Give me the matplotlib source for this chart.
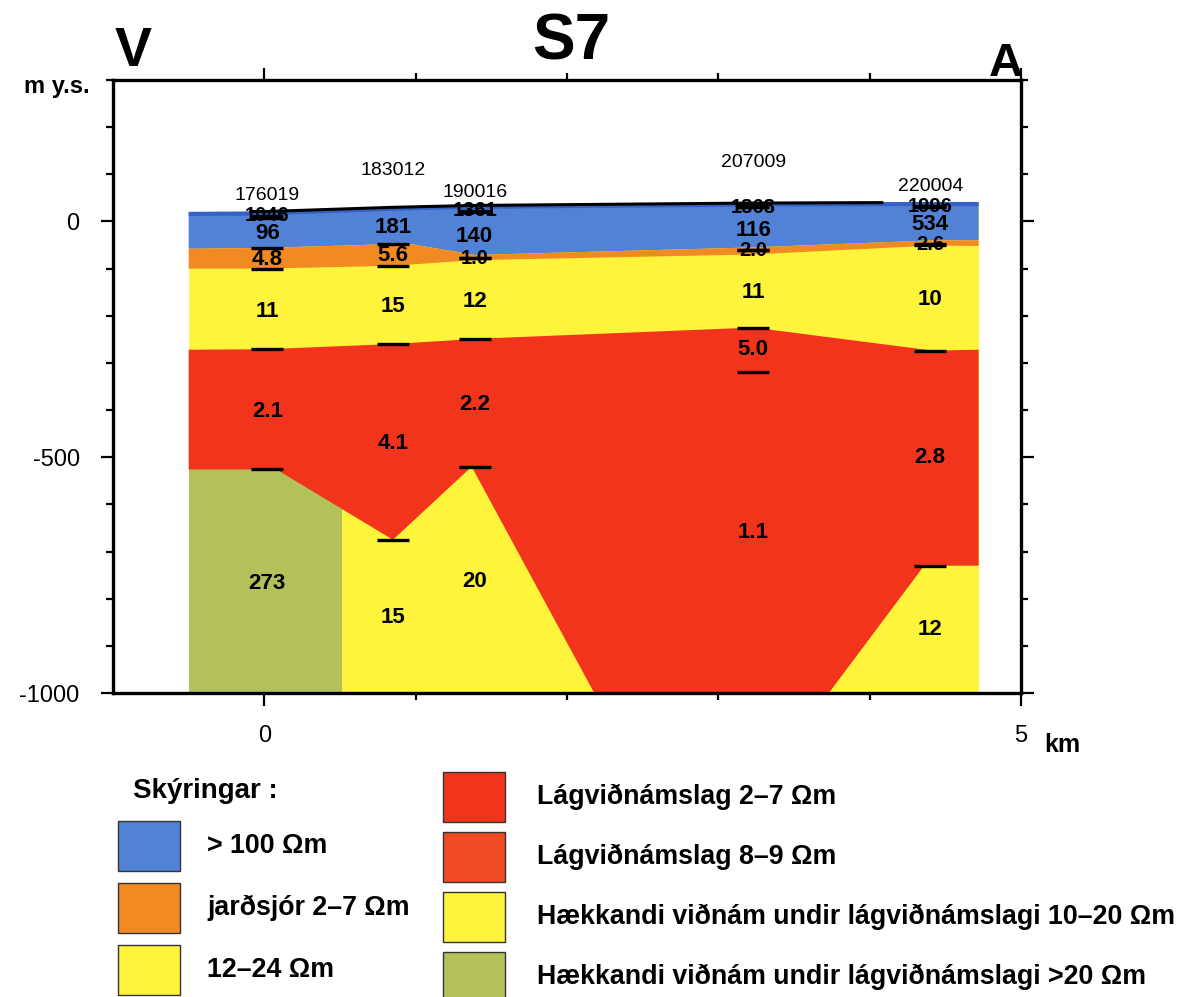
import numpy as np
import matplotlib.pyplot as plt
from matplotlib.patches import Rectangle
from matplotlib.ticker import MultipleLocator, FixedLocator

plt.rcParams['axes.unicode_minus'] = False
plt.rcParams['font.family'] = ['Liberation Sans', 'DejaVu Sans']
NARROW = ['Liberation Sans Narrow', 'Liberation Sans', 'DejaVu Sans']

# -----------------------------
# Layer colours
# -----------------------------
c_blue = '#5282d6'
c_blue_dark = '#3562c4'
c_orange = '#f28a24'
c_yellow = '#fff43c'
c_red = '#f2341c'
c_red2 = '#f04a22'
c_green = '#b4c05a'

# -----------------------------
# Section geometry (km, m y.s.)
# -----------------------------
z_floor = -1000

surface_x = [-0.5, 0.0, 0.85, 1.39, 3.23, 4.42, 4.72]
surface_z = [19, 20, 30, 34, 39, 40, 40]

blue_base_x = [-0.5, 0.0, 0.95, 1.39, 3.23, 4.42, 4.72]
blue_base_z = [-58, -56, -47, -71, -55, -40, -40]

sea_base_x = [-0.5, 0.0, 0.85, 1.39, 3.23, 4.42, 4.72]
sea_base_z = [-100, -100, -94, -82, -70, -51, -52]

red_top_x = [-0.5, 0.0, 0.85, 1.39, 3.23, 4.42, 4.72]
red_top_z = [-272, -271, -260, -249, -225, -274, -272]

red_base_x = [-0.5, 0.08, 0.85, 1.37, 2.18, 3.73, 4.36, 4.72]
red_base_z = [-526, -526, -675, -520, -1000, -1000, -730, -730]

green_x = [-0.5, 0.51]
green_top = -526

surf_line_x = [-0.1, 0.0, 0.85, 1.39, 3.23, 4.09]
surf_line_z = [21, 21, 30, 34, 39, 40]

# -----------------------------
# Soundings
# -----------------------------
st_names = ['176019', '183012', '190016', '207009', '220004']
st_x = [0.02, 0.85, 1.39, 3.23, 4.40]
st_label_z = [56, 108, 61, 124, 74]

# resistivity values: (station index, text, depth, struck through)
res_labels = [
    (0, '1046', 12, True), (0, '96', -26, False), (0, '4.8', -80, False),
    (0, '11', -191, False), (0, '2.1', -402, False), (0, '273', -768, False),
    (1, '181', -13, False), (1, '5.6', -73, False), (1, '15', -180, False),
    (1, '4.1', -471, False), (1, '15', -839, False),
    (2, '1361', 23, True), (2, '140', -31, False), (2, '1.0', -78, True),
    (2, '12', -169, False), (2, '2.2', -388, False), (2, '20', -763, False),
    (3, '1868', 30, True), (3, '116', -19, False), (3, '2.0', -61, True),
    (3, '11', -150, False), (3, '5.0', -272, False), (3, '1.1', -659, False),
    (4, '1996', 32, True), (4, '534', -6, False), (4, '2.6', -49, True),
    (4, '10', -166, False), (4, '2.8', -500, False), (4, '12', -866, False),
]

# layer boundary marks at each sounding
bar_z = [
    [7, -56, -101, -271, -526],
    [-47, -94, -260, -675],
    [20, -78, -249, -521],
    [35, -61, -225, -319],
    [30, -47, -274, -730],
]
bar_half = 0.105

# -----------------------------
# Legend entries
# -----------------------------
legend_left = [(c_blue, '> 100 \u03a9m'), (c_orange, 'jarðsjór 2\u20137 \u03a9m'),
               (c_yellow, '12\u201324 \u03a9m')]
legend_right = [(c_red, 'Lágviðnámslag 2\u20137 \u03a9m'),
                (c_red2, 'Lágviðnámslag 8\u20139 \u03a9m'),
                (c_yellow, 'Hækkandi viðnám undir lágviðnámslagi 10\u201320 \u03a9m'),
                (c_green, 'Hækkandi viðnám undir lágviðnámslagi >20 \u03a9m')]

W, H = 1189, 997
fig = plt.figure(figsize=(W / 100, H / 100), dpi=100)


def fx(px):
    return px / W


def fy(py):
    return 1 - py / H


ax = fig.add_axes([fx(113), fy(693), fx(1021) - fx(113), fy(80) - fy(693)])

# background column is yellow, other layers drawn over it
ax.fill_between(surface_x, surface_z, z_floor, color=c_yellow, lw=0)
ax.add_patch(Rectangle((green_x[0], z_floor), green_x[1] - green_x[0],
                       green_top - z_floor, color=c_green, lw=0))
ax.fill(list(red_top_x) + red_base_x[::-1], list(red_top_z) + red_base_z[::-1],
        color=c_red, lw=0)
ax.fill(list(surface_x) + blue_base_x[::-1], list(surface_z) + blue_base_z[::-1],
        color=c_blue, lw=0)
ax.fill(list(blue_base_x) + sea_base_x[::-1], list(blue_base_z) + sea_base_z[::-1],
        color=c_orange, lw=0)
ax.plot(surface_x, np.array(surface_z) - 3, color=c_blue_dark, lw=3,
        solid_capstyle='butt')
ax.plot(surf_line_x, surf_line_z, color='black', lw=2.2, solid_capstyle='butt')

for name, x, z in zip(st_names, st_x, st_label_z):
    ax.text(x, z, name, ha='center', va='center', fontsize=14)

for i, txt, z, struck in res_labels:
    ax.text(st_x[i], z, txt, ha='center', va='center',
            fontsize=14.5 if struck else 16, fontweight='bold')
    if struck:
        ax.plot([st_x[i] - bar_half, st_x[i] + bar_half], [z, z], color='black',
                lw=2.4, solid_capstyle='butt')

for x, zs in zip(st_x, bar_z):
    for z in zs:
        ax.plot([x - bar_half, x + bar_half], [z, z], color='black', lw=2.4,
                solid_capstyle='butt')

ax.set_xlim(-1, 5)
ax.set_ylim(-1000, 300)
ax.xaxis.set_major_locator(FixedLocator([0, 5]))
ax.xaxis.set_minor_locator(FixedLocator([1, 2, 3, 4]))
ax.yaxis.set_major_locator(FixedLocator([0, -500, -1000]))
ax.yaxis.set_minor_locator(MultipleLocator(100))
ax.set_xticklabels(['0', '5'], fontsize=17)
ax.set_yticklabels(['0', '-500', '-1000'], fontsize=17)
ax.tick_params(which='both', direction='out', top=True, right=True, width=1.6,
               color='black')
ax.tick_params(which='major', length=9, pad=14)
ax.tick_params(which='minor', length=5)
ax.tick_params(axis='y', which='major', pad=15)
for sp in ax.spines.values():
    sp.set_linewidth(2.4)

# headings and axis words
fig.text(fx(571), fy(42), 'S7', ha='center', va='center', fontsize=46,
         fontweight='bold')
fig.text(fx(133), fy(52), 'V', ha='center', va='center', fontsize=40,
         fontweight='bold', family=NARROW)
fig.text(fx(1006), fy(64), 'A', ha='center', va='center', fontsize=34,
         fontweight='bold', family=NARROW)
fig.text(fx(57), fy(87), 'm y.s.', ha='center', va='center', fontsize=17,
         fontweight='bold', family=NARROW)
fig.text(fx(1062), fy(745), 'km', ha='center', va='center', fontsize=18,
         fontweight='bold', family=NARROW)

# legend
fig.text(fx(133), fy(791), 'Skýringar :', ha='left', va='center', fontsize=20,
         fontweight='bold', family=NARROW)
box_w, box_h = 62, 50
for k, (col, txt) in enumerate(legend_left):
    yc = 846 + 62 * k
    fig.patches.append(Rectangle((fx(118), fy(yc + box_h / 2)), fx(box_w),
                                 box_h / H, transform=fig.transFigure,
                                 facecolor=col, edgecolor='#333333', lw=1.0))
    fig.text(fx(207), fy(yc), txt, ha='left', va='center', fontsize=19.3,
             fontweight='bold', family=NARROW)
for k, (col, txt) in enumerate(legend_right):
    yc = 797 + 60 * k
    fig.patches.append(Rectangle((fx(443), fy(yc + box_h / 2)), fx(box_w),
                                 box_h / H, transform=fig.transFigure,
                                 facecolor=col, edgecolor='#333333', lw=1.0))
    fig.text(fx(537), fy(yc), txt, ha='left', va='center', fontsize=19.3,
             fontweight='bold', family=NARROW)

fig.savefig('out.png', dpi=100)
